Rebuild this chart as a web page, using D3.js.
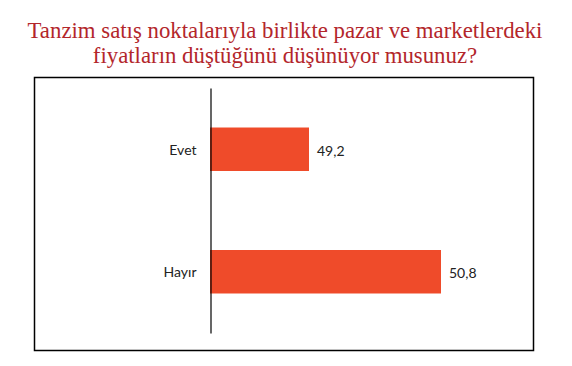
<!DOCTYPE html>
<html>
<head>
<meta charset="utf-8">
<script src="https://cdn.jsdelivr.net/npm/d3@7"></script>
<style>
  body { margin: 0; background: #fff; }
  .title { font-family: "Liberation Serif", "DejaVu Serif", serif; fill: #B3262B; }
  .cat text { font-family: Lato, "Open Sans", sans-serif; font-size: 14px; fill: #222; }
  .value { font-family: Lato, "Open Sans", sans-serif; font-size: 14px; fill: #222; }
</style>
</head>
<body>
<script>
// Chart data
const categories = ["Evet", "Hayır"];
const values = [49.2, 50.8];
const valueLabels = ["49,2", "50,8"];
const titleLines = [
  "Tanzim satış noktalarıyla birlikte pazar ve marketlerdeki",
  "fiyatların düştüğünü düşünüyor musunuz?"
];
const axisMin = 48;
const axisMax = 52;

const WIDTH = 572, HEIGHT = 366;
const PLOT = {LEFT: 210, RIGHT: 540, TOP: 88, BOTTOM: 333};

const svg = d3.select("body").append("svg")
  .attr("width", WIDTH)
  .attr("height", HEIGHT);

// Title, two centred lines
svg.append("text")
  .attr("class", "title")
  .attr("text-anchor", "middle")
  .attr("font-size", 22.8)
  .selectAll("tspan")
  .data(titleLines)
  .enter()
  .append("tspan")
  .attr("x", 285)
  .attr("y", (d, i) => 38 + i * 25)
  .text((d) => d);

// Outer frame round the chart area
svg.append("rect")
  .attr("x", 34.5)
  .attr("y", 77.5)
  .attr("width", 499)
  .attr("height", 273)
  .attr("fill", "none")
  .attr("stroke", "#000")
  .attr("stroke-width", 1.5);

// Scales
const xScale = d3.scaleLinear().domain([axisMin, axisMax]).range([PLOT.LEFT, PLOT.RIGHT]);
const yScale = d3.scaleBand()
  .domain(categories)
  .range([PLOT.TOP, PLOT.BOTTOM])
  .paddingInner(0.645)
  .paddingOuter(0.3225);

// Bars
svg.selectAll(".bar")
  .data(values)
  .enter()
  .append("rect")
  .attr("class", "bar")
  .attr("x", xScale(axisMin))
  .attr("y", (d, i) => yScale(categories[i]))
  .attr("width", (d) => xScale(d) - xScale(axisMin))
  .attr("height", yScale.bandwidth())
  .attr("fill", "#EF4B2A");

// Value labels
svg.selectAll(".value")
  .data(values)
  .enter()
  .append("text")
  .attr("class", "value")
  .attr("x", (d) => xScale(d) + 8)
  .attr("y", (d, i) => yScale(categories[i]) + yScale.bandwidth() / 2)
  .attr("dy", "0.45em")
  .text((d, i) => valueLabels[i]);

// Category axis (vertical line + labels)
const axis = svg.append("g")
  .attr("class", "cat")
  .attr("transform", "translate(" + (xScale(axisMin) + 0.5) + ",0)")
  .call(d3.axisLeft(yScale).tickSize(0).tickPadding(14));
axis.select(".domain").attr("stroke", "#000").attr("stroke-width", 1.2);
axis.selectAll(".tick text").attr("dy", "0.4em").attr("font-size", 14).attr("font-family", "Lato, sans-serif");
</script>
</body>
</html>
